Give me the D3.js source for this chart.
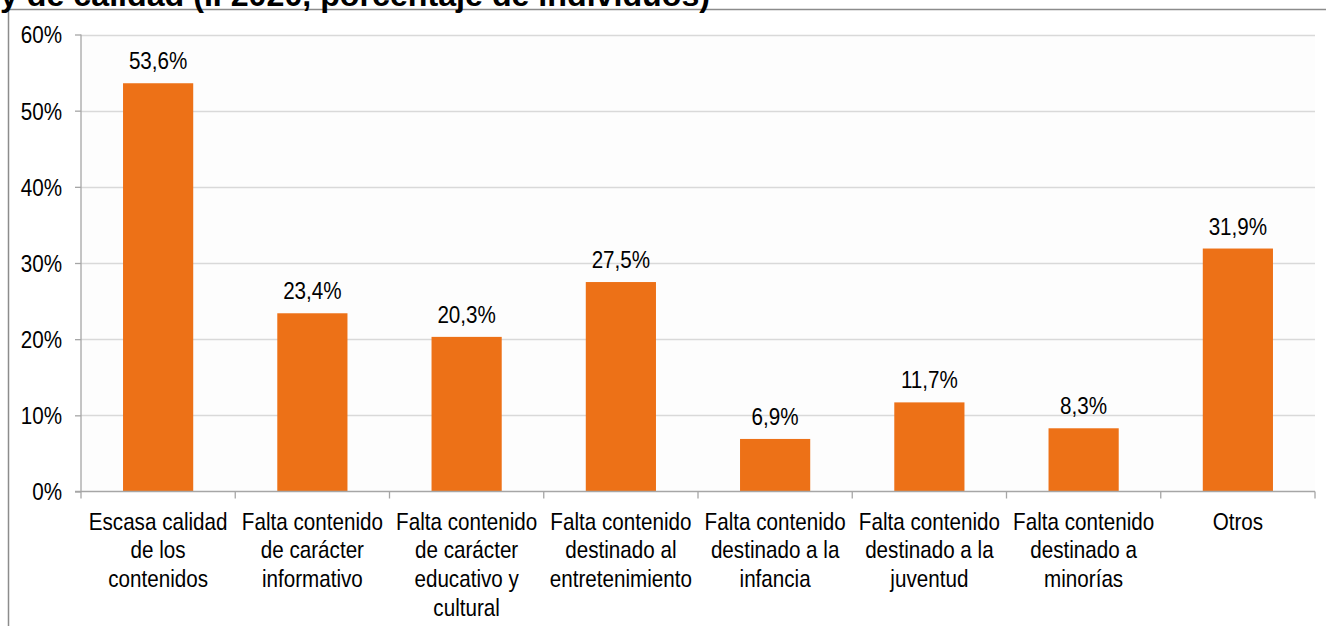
<!DOCTYPE html>
<html>
<head>
<meta charset="utf-8">
<script src="https://cdn.jsdelivr.net/npm/d3@7"></script>
<style>
  body { margin: 0; background: #fff; }
  svg text { font-family: "Liberation Sans", Arial, sans-serif; fill: #000; }
  .title { font-weight: bold; }
</style>
</head>
<body>
<svg id="chart" width="1326" height="626"></svg>
<script>
var categories = [
  ["Escasa calidad", "de los", "contenidos"],
  ["Falta contenido", "de carácter", "informativo"],
  ["Falta contenido", "de carácter", "educativo y", "cultural"],
  ["Falta contenido", "destinado al", "entretenimiento"],
  ["Falta contenido", "destinado a la", "infancia"],
  ["Falta contenido", "destinado a la", "juventud"],
  ["Falta contenido", "destinado a", "minorías"],
  ["Otros"]
];
var values = [53.6, 23.4, 20.3, 27.5, 6.9, 11.7, 8.3, 31.9];
var yTicks = [0, 10, 20, 30, 40, 50, 60];
var titleText = "y de calidad (II 2020, porcentaje de individuos)";

var svg = d3.select("#chart");
var pLeft = 81, pRight = 1315, pTop = 34.5, pBottom = 491.5;
var squeeze = 0.86, fs = 24;

// marco
svg.append('path').attr('d', 'M8.5,626 V9.5 H1326').attr('fill', 'none').attr('stroke', '#8c8c8c').attr('stroke-width', 1.5);
svg.append('text').attr('class', 'title').attr('x', 0).attr('y', 6).attr('font-size', 32)
  .attr('textLength', 710).attr('lengthAdjust', 'spacingAndGlyphs').text(titleText);

var keys = categories.map(function(d, i) { return i; });
var xScale = d3.scaleBand().domain(keys).range([pLeft, pRight]).paddingInner(0.545).paddingOuter(0.2725);
var xTicks = d3.scaleBand().domain(keys).range([pLeft, pRight]);
var yScale = d3.scaleLinear().domain([0, 60]).range([pBottom, pTop]);

svg.append('rect').attr('x', pLeft).attr('y', pTop).attr('width', pRight - pLeft).attr('height', pBottom - pTop).attr('fill', '#fdfdfd');

// lineas de cuadricula
svg.append('g').selectAll('line').data(yTicks.slice(1)).enter().append('line')
  .attr('x1', pLeft).attr('x2', pRight)
  .attr('y1', function(d) { return Math.round(yScale(d)) + 0.5; })
  .attr('y2', function(d) { return Math.round(yScale(d)) + 0.5; })
  .attr('stroke', '#d9d9d9').attr('stroke-width', 1.3);

svg.append('g').selectAll('rect').data(values).enter().append('rect')
  .attr('x', function(d, i) { return xScale(i); })
  .attr('width', xScale.bandwidth())
  .attr('y', function(d) { return yScale(d); })
  .attr('height', function(d) { return pBottom - yScale(d); })
  .attr('fill', '#ed7117');

svg.append('g').selectAll('text').data(values).enter().append('text')
  .attr('transform', function(d, i) { return 'translate(' + (xScale(i) + xScale.bandwidth() / 2) + ',' + (yScale(d) - 14) + ') scale(' + squeeze + ',1)'; })
  .attr('text-anchor', 'middle').attr('font-size', fs)
  .text(function(d) { return d.toFixed(1).replace('.', ',') + '%'; });

// eje y
var yAxis = svg.append('g').attr('transform', 'translate(' + pLeft + ',0)')
  .call(d3.axisLeft(yScale).tickValues(yTicks).tickSize(6).tickFormat(function(d) { return d + '%'; }));
yAxis.selectAll('text').attr('font-size', fs).attr('dy', '0.35em').attr('x', 0)
  .attr('transform', 'translate(-19,0) scale(' + squeeze + ',1)');
yAxis.selectAll('line').attr('stroke', '#a6a6a6').attr('stroke-width', 1.3);
yAxis.select('.domain').attr('stroke', '#a6a6a6').attr('stroke-width', 1.3).attr('d', 'M0,' + pTop + 'V' + pBottom);

// eje x
var xAxis = svg.append('g').attr('transform', 'translate(0,' + pBottom + ')');
xAxis.append('line').attr('x1', pLeft - 6).attr('x2', pRight).attr('stroke', '#a6a6a6').attr('stroke-width', 1.5);
xAxis.selectAll('.tk').data(keys.concat([keys.length])).enter().append('line')
  .attr('x1', function(d) { return pLeft + d * xTicks.step(); })
  .attr('x2', function(d) { return pLeft + d * xTicks.step(); })
  .attr('y1', 0).attr('y2', 7).attr('stroke', '#a6a6a6').attr('stroke-width', 1.3);

var labels = xAxis.selectAll('.lbl').data(categories).enter().append('text')
  .attr('text-anchor', 'middle').attr('font-size', fs)
  .attr('transform', function(d, i) { return 'translate(' + (xTicks(i) + xTicks.bandwidth() / 2) + ',38) scale(' + squeeze + ',1)'; });
labels.selectAll('tspan').data(function(d) { return d; }).enter().append('tspan')
  .attr('x', 0).attr('dy', function(d, i) { return i === 0 ? 0 : 29; })
  .text(function(d) { return d; });
</script>
</body>
</html>
